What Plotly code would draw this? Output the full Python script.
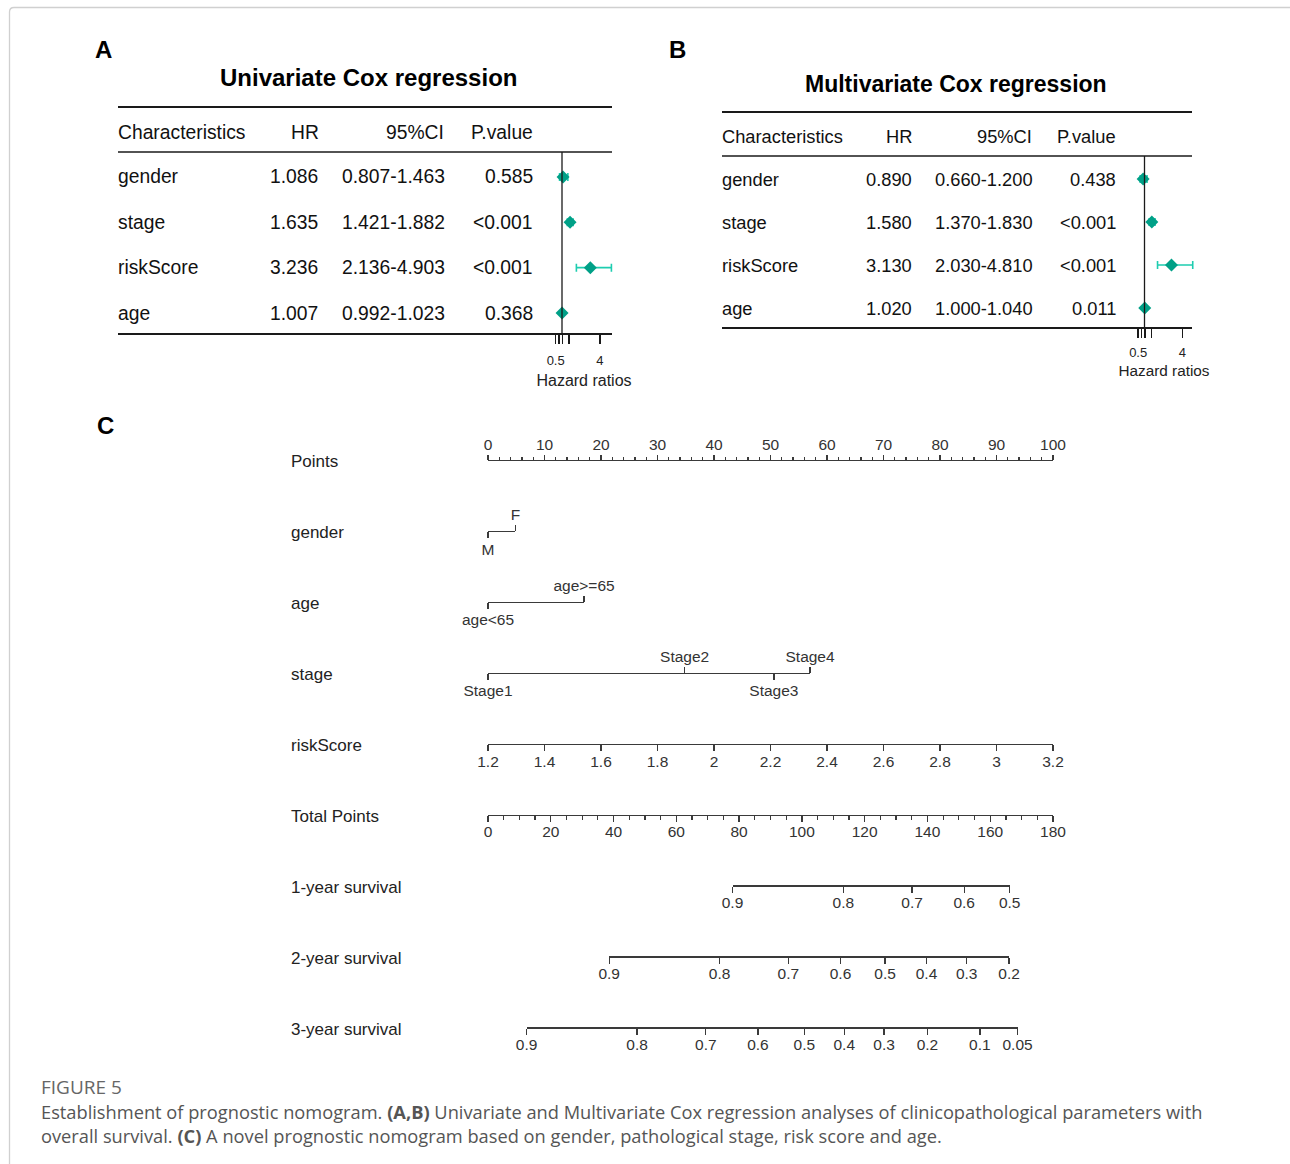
import plotly.graph_objects as go

W, H = 1290, 1164
def px(x): return x / W
def py(y): return 1 - y / H

ARIAL = "Liberation Sans, Arial, sans-serif"
CAPF = "Open Sans, Noto Sans, sans-serif"

# ---------------- data ----------------
characteristics = ['gender', 'stage', 'riskScore', 'age']
uni_hr = [1.086, 1.635, 3.236, 1.007]
uni_low = [0.807, 1.421, 2.136, 0.992]
uni_high = [1.463, 1.882, 4.903, 1.023]
uni_p = ['0.585', '<0.001', '<0.001', '0.368']
multi_hr = [0.890, 1.580, 3.130, 1.020]
multi_low = [0.660, 1.370, 2.030, 1.000]
multi_high = [1.200, 1.830, 4.810, 1.040]
multi_p = ['0.438', '<0.001', '<0.001', '0.011']
hr_ticks = [0.5, 0.78, 1.05, 1.55, 4]
hr_ticklabels = ['0.5', '', '', '', '4']

nomo_rows = ['Points', 'gender', 'age', 'stage', 'riskScore', 'Total Points',
             '1-year survival', '2-year survival', '3-year survival']
points_ticks = [0, 10, 20, 30, 40, 50, 60, 70, 80, 90, 100]
gender_levels = ['M', 'F']
gender_points = [0, 4.85]
age_levels = ['age<65', 'age>=65']
age_points = [0, 17.0]
stage_levels = ['Stage1', 'Stage2', 'Stage3', 'Stage4']
stage_points = [0, 34.8, 50.6, 57.0]
risk_ticks = [1.2, 1.4, 1.6, 1.8, 2.0, 2.2, 2.4, 2.6, 2.8, 3.0, 3.2]
risk_labels = ['1.2', '1.4', '1.6', '1.8', '2', '2.2', '2.4', '2.6', '2.8', '3', '3.2']
total_ticks = [0, 20, 40, 60, 80, 100, 120, 140, 160, 180]
surv1_labels = ['0.9', '0.8', '0.7', '0.6', '0.5']
surv1_total = [77.9, 113.2, 135.1, 151.7, 166.2]
surv2_labels = ['0.9', '0.8', '0.7', '0.6', '0.5', '0.4', '0.3', '0.2']
surv2_total = [38.6, 73.8, 95.7, 112.3, 126.5, 139.7, 152.5, 166.0]
surv3_labels = ['0.9', '0.8', '0.7', '0.6', '0.5', '0.4', '0.3', '0.2', '0.1', '0.05']
surv3_total = [12.3, 47.5, 69.4, 86.0, 100.8, 113.5, 126.2, 140.0, 156.7, 168.7]

def esc(s):
    return s.replace('<', '&lt;').replace('>', '&gt;')

fig = go.Figure()
ann = []
shapes = []

def text(x, y, s, size, anchor='left', bold=False, color='#111', yref='paper', family=ARIAL):
    ann.append(dict(x=px(x), y=(py(y) if yref == 'paper' else y), xref='paper', yref=yref,
                    text=(f'<b>{s}</b>' if bold else s), showarrow=False, xanchor=anchor,
                    yanchor='middle', borderpad=0, borderwidth=0,
                    font=dict(size=size, color=color, family=family)))

def hline(y, x0, x1, w=1.5, color='#1a1a1a'):
    shapes.append(dict(type='line', xref='paper', yref='paper', x0=px(x0), x1=px(x1),
                       y0=py(y), y1=py(y), line=dict(color=color, width=w)))

# ---------------- forest plots ----------------
TEAL = '#00A087'
TEAL_L = '#1ECDB0'

def forest(panel, xa, ya, hr, lo, hi, pv, cfg):
    rows = [1, 2, 3, 4]
    fig.add_trace(go.Scatter(
        x=hr, y=rows, mode='markers', xaxis=xa, yaxis=ya, showlegend=False, hoverinfo='skip',
        marker=dict(symbol='diamond', size=10, color=TEAL),
        error_x=dict(type='data', symmetric=False,
                     array=[h - m for h, m in zip(hi, hr)],
                     arrayminus=[m - l for m, l in zip(hr, lo)],
                     color=TEAL_L, thickness=1.6, width=4)))
    fs = cfg['fs']
    yr = 'y' if ya == 'y' else 'y2'
    for i, c in enumerate(characteristics):
        text(cfg['lab'], rows[i], c, fs, 'left', yref=yr)
        text(cfg['hr'], rows[i], f'{hr[i]:.3f}', fs, 'right', yref=yr)
        text(cfg['ci'], rows[i], f'{lo[i]:.3f}-{hi[i]:.3f}', fs, 'right', yref=yr)
        text(cfg['p'], rows[i], esc(pv[i]), fs, 'right', yref=yr)
    hy = cfg['head']
    text(cfg['lab'], hy, 'Characteristics', fs, 'left')
    text(cfg['hrh'], hy, 'HR', fs, 'center')
    text(cfg['cih'], hy, '95%CI', fs, 'right')
    text(cfg['p'], hy, 'P.value', fs, 'right')
    text(cfg['tx'], cfg['ty'], cfg['title'], cfg['tfs'], 'center', bold=True, color='#000')
    text(cfg['px'], 50, panel, 24, 'center', bold=True, color='#000')
    hline(cfg['l1'], cfg['lab'], cfg['end'], 2)
    hline(cfg['l2'], cfg['lab'], cfg['end'], 1.3)
    hline(cfg['l3'], cfg['lab'], cfg['end'], 2)
    shapes.append(dict(type='line', xref=xa, yref='paper', x0=1, x1=1,
                       y0=py(cfg['l3']), y1=py(cfg['l2']), line=dict(color='#1a1a1a', width=1.3)))

cfgA = dict(fs=19.3, lab=118, hr=318, ci=445, p=533, hrh=305, cih=444, head=132,
            tx=368, ty=78, title='Univariate Cox regression', tfs=24, px=103,
            l1=107, l2=152, l3=334, end=612)
cfgB = dict(fs=18.3, lab=722, hr=912, ci=1033, p=1116, hrh=899, cih=1032, head=136,
            tx=956, ty=84, title='Multivariate Cox regression', tfs=23, px=677,
            l1=112, l2=156, l3=328, end=1192)
forest('A', 'x', 'y', uni_hr, uni_low, uni_high, uni_p, cfgA)
forest('B', 'x2', 'y2', multi_hr, multi_low, multi_high, multi_p, cfgB)

def hr_axis(x0pix, x1pix, onepix, unit, title_size, lab_off, title_off):
    return dict(domain=[px(x0pix), px(x1pix)],
                range=[1 + (x0pix - onepix) / unit, 1 + (x1pix - onepix) / unit],
                tickmode='array', tickvals=hr_ticks, ticktext=hr_ticklabels,
                ticks='outside', ticklen=9, tickwidth=1.5, tickcolor='#1a1a1a',
                showline=False, showgrid=False, zeroline=False, fixedrange=True,
                ticklabelstandoff=lab_off,
                tickfont=dict(size=13, color='#222', family=ARIAL),
                title=dict(text='Hazard ratios', font=dict(size=title_size, color='#222', family=ARIAL),
                           standoff=title_off))

# ---------------- nomogram ----------------
P0, P100 = 488.0, 1053.0
def X_pts(p): return P0 + (P100 - P0) * p / 100.0
def X_tot(t): return P0 + (P100 - P0) * t / 180.0
ROW0, ROWD = 460.0, 70.9
def row_y(r): return ROW0 + ROWD * r

AX = '#3a3a3a'
TFS = 15.5
axes = {}
idx = [3]

def nomo_axis(r, lo, hi, pixlo, pixhi, vals, labels, side, showline, ticklen, minor=None, off=0):
    n = idx[0]
    idx[0] += 1
    d = dict(anchor='free', position=py(row_y(r)), domain=[px(pixlo), px(pixhi)], range=[lo, hi],
             tickmode='array', tickvals=vals, ticktext=[esc(str(t)) for t in labels], side=side,
             ticks='outside', ticklen=ticklen, tickwidth=1.3, tickcolor=AX,
             showline=showline, linecolor=AX, linewidth=1.3, showgrid=False, zeroline=False,
             fixedrange=True, ticklabelstandoff=off,
             tickfont=dict(size=TFS, color='#333', family=ARIAL))
    if minor:
        d['minor'] = minor
    axes[f'xaxis{n}'] = d
    fig.add_trace(go.Scatter(x=vals, y=[r] * len(vals), mode='markers', xaxis=f'x{n}', yaxis='y3',
                             marker=dict(size=1, opacity=0), showlegend=False, hoverinfo='skip'))

# Points
nomo_axis(0, 0, 100, X_pts(0), X_pts(100), points_ticks, points_ticks, 'top', True, 5,
          minor=dict(dtick=2, tick0=0, ticklen=3, ticks='outside', tickcolor=AX, tickwidth=1.2), off=-1)
# gender
nomo_axis(1, gender_points[0], gender_points[-1], X_pts(gender_points[0]), X_pts(gender_points[-1]),
          gender_points[0::2], gender_levels[0::2], 'bottom', True, 6, off=-2)
nomo_axis(1, gender_points[0], gender_points[-1], X_pts(gender_points[0]), X_pts(gender_points[-1]),
          gender_points[1::2], gender_levels[1::2], 'top', False, 6, off=-1)
# age
nomo_axis(2, age_points[0], age_points[-1], X_pts(age_points[0]), X_pts(age_points[-1]),
          age_points[0::2], age_levels[0::2], 'bottom', True, 6, off=-3)
nomo_axis(2, age_points[0], age_points[-1], X_pts(age_points[0]), X_pts(age_points[-1]),
          age_points[1::2], age_levels[1::2], 'top', False, 6, off=-1)
# stage
nomo_axis(3, stage_points[0], stage_points[-1], X_pts(stage_points[0]), X_pts(stage_points[-1]),
          stage_points[0::2], stage_levels[0::2], 'bottom', True, 6, off=-3)
nomo_axis(3, stage_points[0], stage_points[-1], X_pts(stage_points[0]), X_pts(stage_points[-1]),
          stage_points[1::2], stage_levels[1::2], 'top', False, 6, off=-1)
# riskScore
nomo_axis(4, risk_ticks[0], risk_ticks[-1], X_pts(0), X_pts(100), risk_ticks, risk_labels,
          'bottom', True, 6, off=-3)
# Total points
nomo_axis(5, 0, 180, X_tot(0), X_tot(180), total_ticks, total_ticks, 'bottom', True, 6,
          minor=dict(dtick=5, tick0=0, ticklen=4, ticks='outside', tickcolor=AX, tickwidth=1.2), off=-3)
# survival
for r, labs, tots in [(6, surv1_labels, surv1_total), (7, surv2_labels, surv2_total),
                      (8, surv3_labels, surv3_total)]:
    nomo_axis(r, tots[0], tots[-1], X_tot(tots[0]), X_tot(tots[-1]), tots, labs, 'bottom', True, 6, off=-3)

for r, name in enumerate(nomo_rows):
    text(291, row_y(r) + 2, name, 17, 'left', color='#222')
text(105, 425, 'C', 24, 'center', bold=True, color='#000')

# ---------------- caption & frame ----------------
text(41, 1087, 'FIGURE 5', 19, 'left', color='#666', family=CAPF)
text(41, 1111, 'Establishment of prognostic nomogram. <b>(A,B)</b> Univariate and Multivariate Cox '
     'regression analyses of clinicopathological parameters with', 18.25, 'left', color='#555',
     family=CAPF)
text(41, 1135, 'overall survival. <b>(C)</b> A novel prognostic nomogram based on gender, '
     'pathological stage, risk score and age.', 18.25, 'left', color='#555', family=CAPF)
shapes.append(dict(type='path', xref='paper', yref='paper',
                   path=f'M {px(9.5)} {py(1164)} L {px(9.5)} {py(12)} Q {px(9.5)} {py(7.5)} {px(14)} {py(7.5)} L {px(1290)} {py(7.5)}',
                   line=dict(color='#d0d0d0', width=1.3)))

rmax = (H - ROW0) / ROWD
rmin = -ROW0 / ROWD
layout = dict(
    width=W, height=H, margin=dict(l=0, r=0, t=0, b=0, pad=0, autoexpand=False),
    paper_bgcolor='white', plot_bgcolor='rgba(0,0,0,0)',
    showlegend=False, annotations=ann, shapes=shapes,
    xaxis=hr_axis(548, 620, 562.0, 12.66, 16, 5, 8),
    yaxis=dict(domain=[py(334), py(152)], range=[4.4633, 0.4485], visible=False, fixedrange=True),
    xaxis2=hr_axis(1128, 1200, 1144.5, 12.66, 15.3, 3, 6),
    yaxis2=dict(domain=[py(328), py(156)], range=[4.465, 0.465], visible=False, fixedrange=True),
    yaxis3=dict(domain=[0, 1], range=[rmax, rmin], visible=False, fixedrange=True),
)
layout['xaxis2']['anchor'] = 'y2'
layout['xaxis']['anchor'] = 'y'
layout.update(axes)
fig.update_layout(**layout)

fig.write_html("out.html", config={'displayModeBar': False, 'staticPlot': True},
               post_script="document.body.style.margin='0';document.body.style.overflow='hidden';")
